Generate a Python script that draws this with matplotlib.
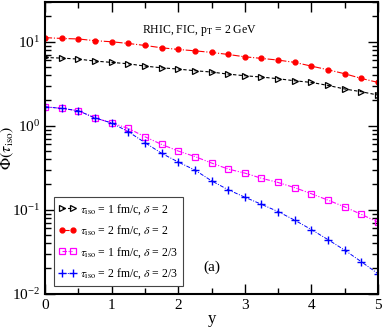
import matplotlib
matplotlib.use('Agg')
import matplotlib.pyplot as plt
from matplotlib.ticker import LogLocator, MultipleLocator, NullFormatter

plt.rcParams['font.family'] = ['Liberation Serif', 'DejaVu Serif']
plt.rcParams['mathtext.fontset'] = 'stix'

y_vals = [0, 0.25, 0.5, 0.75, 1, 1.25, 1.5, 1.75, 2, 2.25, 2.5,
          2.75, 3, 3.25, 3.5, 3.75, 4, 4.25, 4.5, 4.75, 5]

# tau_iso = 1 fm/c, delta = 2
phi_t1_d2 = [6.5, 6.39, 6.22, 5.89, 5.68, 5.47, 5.13, 4.9, 4.73, 4.52, 4.36,
             4.12, 3.94, 3.8, 3.63, 3.43, 3.28, 3.02, 2.74, 2.54, 2.32]
# tau_iso = 2 fm/c, delta = 2
phi_t2_d2 = [11.2, 10.95, 10.8, 10.3, 10.0, 9.55, 9.04, 8.48, 8.1, 7.8, 7.47,
             7.06, 6.62, 6.34, 6.05, 5.68, 5.13, 4.64, 4.16, 3.66, 3.28]
# tau_iso = 1 fm/c, delta = 2/3
phi_t1_d23 = [1.68, 1.61, 1.51, 1.24, 1.08, 0.93, 0.74, 0.60, 0.50, 0.43, 0.36,
              0.305, 0.273, 0.237, 0.211, 0.183, 0.155, 0.130, 0.108, 0.088, 0.071]
# tau_iso = 2 fm/c, delta = 2/3
phi_t2_d23 = [1.68, 1.61, 1.51, 1.24, 1.08, 0.85, 0.63, 0.47, 0.37, 0.297, 0.221,
              0.173, 0.141, 0.116, 0.095, 0.075, 0.058, 0.044, 0.033, 0.024, 0.0173]

labels = [r'$\tau_{\rm iso}$ = 1 fm/c, $\delta$ = 2',
          r'$\tau_{\rm iso}$ = 2 fm/c, $\delta$ = 2',
          r'$\tau_{\rm iso}$ = 1 fm/c, $\delta$ = 2/3',
          r'$\tau_{\rm iso}$ = 2 fm/c, $\delta$ = 2/3']

fig = plt.figure(figsize=(3.82, 3.27), dpi=100)
ax = fig.add_axes([45 / 382, 33.3 / 327, 333 / 382, 292 / 327])

ax.plot(y_vals, phi_t1_d2, color='black', ls=(0, (3, 2)), lw=0.8, marker='>',
        mfc='none', mec='black', ms=4.5, mew=0.9, label=labels[0])
ax.plot(y_vals, phi_t2_d2, color='red', ls='-.', lw=0.8, marker='o',
        mfc='red', mec='red', ms=3.5, label=labels[1])
ax.plot(y_vals, phi_t1_d23, color='magenta', ls=(0, (4, 1.5, 1, 1.5, 1, 1.5)),
        lw=0.8, marker='s', mfc='none', mec='magenta', ms=4, mew=0.9,
        label=labels[2])
ax.plot(y_vals, phi_t2_d23, color='blue', ls=(0, (4, 1.5, 1, 1.5)), lw=0.7,
        marker='+', mec='blue', ms=5.5, mew=1.0, label=labels[3])

ax.set_yscale('log')
ax.set_xlim(0, 5)
ax.set_ylim(0.01, 30)
ax.xaxis.set_major_locator(MultipleLocator(1))
ax.xaxis.set_minor_locator(MultipleLocator(0.5))
ax.yaxis.set_major_locator(LogLocator(base=10))
ax.yaxis.set_minor_locator(LogLocator(base=10, subs=range(2, 10)))
ax.yaxis.set_minor_formatter(NullFormatter())

ax.tick_params(which='both', direction='in', top=True, right=True,
               labelsize=11, width=1)
ax.tick_params(which='major', length=7)
ax.tick_params(which='minor', length=4)
ax.tick_params(axis='x', pad=4)
for s in ax.spines.values():
    s.set_linewidth(1.5)

ax.set_xlabel('y', fontsize=12, labelpad=-1)
ax.set_ylabel(r'$\Phi(\tau_{\rm iso})$', fontsize=11.5, labelpad=-3)

ax.text(0.463, 0.903, r'RHIC, FIC, p$_{\rm T}$ = 2 GeV', transform=ax.transAxes,
        ha='center', va='center', fontsize=8.5)
ax.text(0.5, 0.09, '(a)', transform=ax.transAxes, ha='center', va='center',
        fontsize=11)

leg = ax.legend(loc='lower left', bbox_to_anchor=(0.027, 0.026),
                borderaxespad=0, fontsize=8.5, numpoints=2, handlelength=1.5,
                handletextpad=0.3, labelspacing=0.6, fancybox=False,
                framealpha=1, edgecolor='#444444', borderpad=0.4)
leg.get_frame().set_linewidth(0.8)

fig.savefig('out.png', dpi=100)
